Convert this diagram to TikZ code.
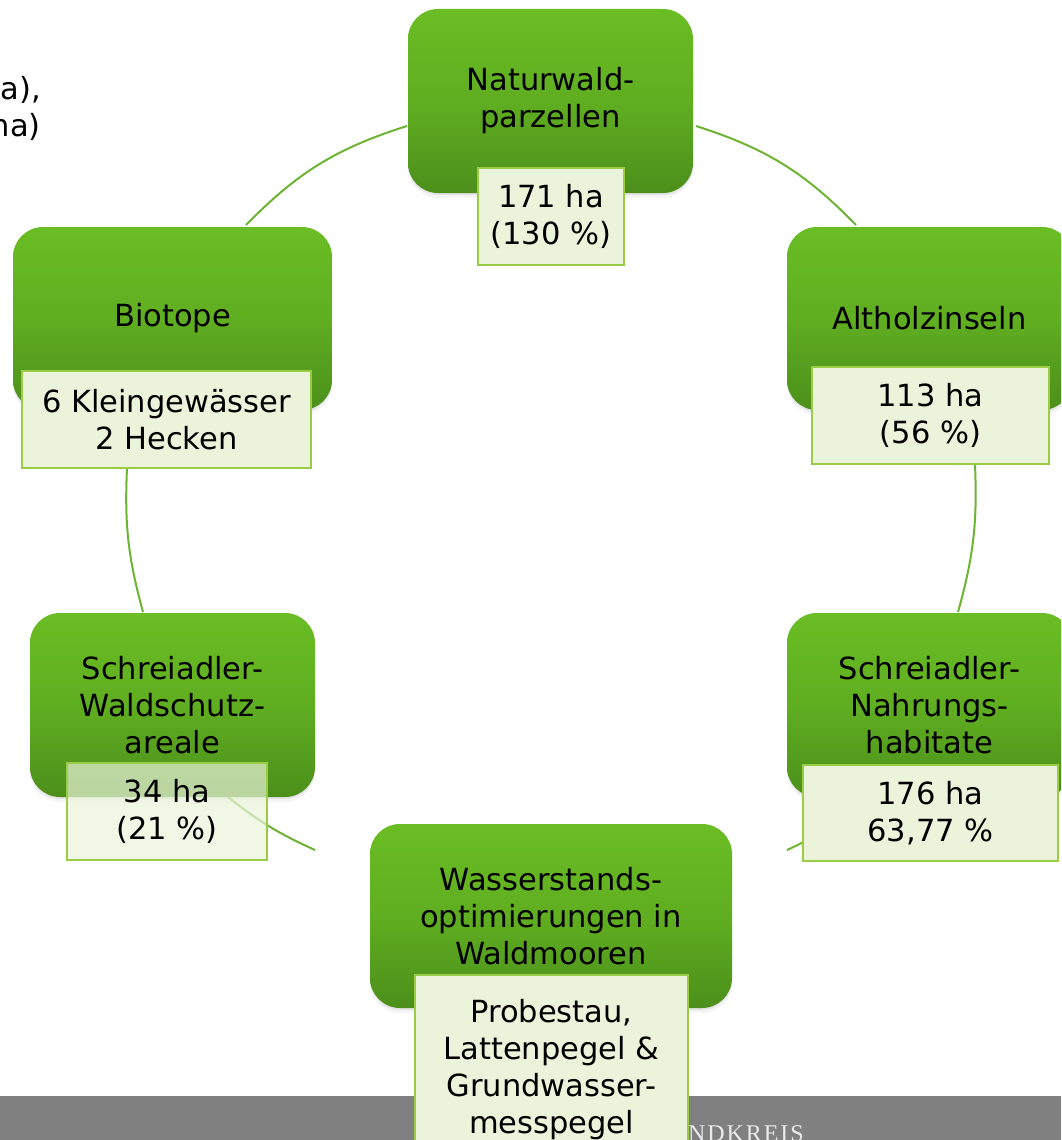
\documentclass[tikz,border=0pt]{standalone}
\usepackage{fontspec}
\setmainfont{DejaVu Sans}
\newfontfamily\barfont[LetterSpace=8]{Liberation Serif}
\usetikzlibrary{shadows}
\definecolor{nodetop}{RGB}{106,189,36}
\definecolor{nodemid}{RGB}{96,174,33}
\definecolor{nodebot}{RGB}{76,143,27}
\definecolor{subfill}{RGB}{235,243,218}
\definecolor{subline}{RGB}{154,205,69}
\definecolor{arcline}{RGB}{109,179,52}
\definecolor{bargray}{RGB}{128,128,128}

\begin{document}
\begin{tikzpicture}[x=1pt, y=-1pt,
    every node/.style={font=\fontsize{30.5}{37}\selectfont, align=center, inner sep=0pt},
    soft shadow/.style={drop shadow={shadow xshift=0pt, shadow yshift=-2pt, opacity=.15},
                        drop shadow={shadow xshift=0pt, shadow yshift=-5pt, opacity=.08}},
    topic/.style={rounded corners=30pt, top color=nodetop, bottom color=nodebot,
                  middle color=nodemid, soft shadow},
    detail/.style={draw=subline, line width=2pt, fill=subfill},
    ring/.style={draw=arcline, line width=2pt, bend left=#1}]
\useasboundingbox (0,0) rectangle (1061,1140);
\clip (0,0) rectangle (1061,1140);

% footer bar
\fill[bargray] (0,1096) rectangle (1061,1140);
\node[font=\barfont\fontsize{24}{24}\selectfont, text=white!92!black, anchor=base west]
    (kreis) at (688,1141) {NDKREIS};
\node[anchor=north east, align=right] (rest) at (41,76) {a),\\na)};

% ends of the cycle arcs
\coordinate (a1) at (696,126);  \coordinate (a2) at (856,225);
\coordinate (b1) at (975,465);  \coordinate (b2) at (958,612);
\coordinate (c1) at (812,837);  \coordinate (c2) at (787,850);
\coordinate (d1) at (315,850);  \coordinate (d2) at (228,797);
\coordinate (e1) at (143,612);  \coordinate (e2) at (127,468);
\coordinate (f1) at (246,225);  \coordinate (f2) at (407,126);
\draw[ring=14] (a1) to (a2);
\draw[ring=9]  (b1) to (b2);
\draw[ring=3]  (c1) to (c2);
\draw[ring=7]  (d1) to (d2);
\draw[ring=9]  (e1) to (e2);
\draw[ring=14] (f1) to (f2);

% topics
\node[topic, minimum width=285, minimum height=184] (natur) at (550.5,101) {Naturwald-\\parzellen};
\node[topic, minimum width=319, minimum height=183] (biotop) at (172.5,318.5) {Biotope};
\node[topic, minimum width=285, minimum height=183] (altholz) at (929.5,318.5) {Altholzinseln};
\node[topic, minimum width=285, minimum height=184] (schutz) at (172.5,705) {Schreiadler-\\Waldschutz-\\areale};
\node[topic, minimum width=285, minimum height=184] (nahrung) at (929.5,705) {Schreiadler-\\Nahrungs-\\habitate};
\node[topic, minimum width=362, minimum height=184] (wasser) at (551,916) {Wasserstands-\\optimierungen in\\Waldmooren};

% details
\node[detail, minimum width=146, minimum height=97] (natur-d) at (551,216.5) {171 ha\\(130~\%)};
\node[detail, minimum width=289, minimum height=97] (biotop-d) at (166.5,419.5) {6 Kleingewässer\\2 Hecken};
\node[detail, minimum width=237, minimum height=97] (altholz-d) at (930.5,415.5) {113 ha\\(56~\%)};
\node[detail, fill opacity=.7, text opacity=1, minimum width=200, minimum height=97] (schutz-d) at (167,811.5) {34 ha\\(21~\%)};
\node[detail, minimum width=255, minimum height=96] (nahrung-d) at (930.5,813) {176 ha\\63,77~\%};
\node[detail, minimum width=273, minimum height=190] (wasser-d) at (551.5,1070) {Probestau,\\Lattenpegel \&\\Grundwasser-\\messpegel};
\end{tikzpicture}
\end{document}
